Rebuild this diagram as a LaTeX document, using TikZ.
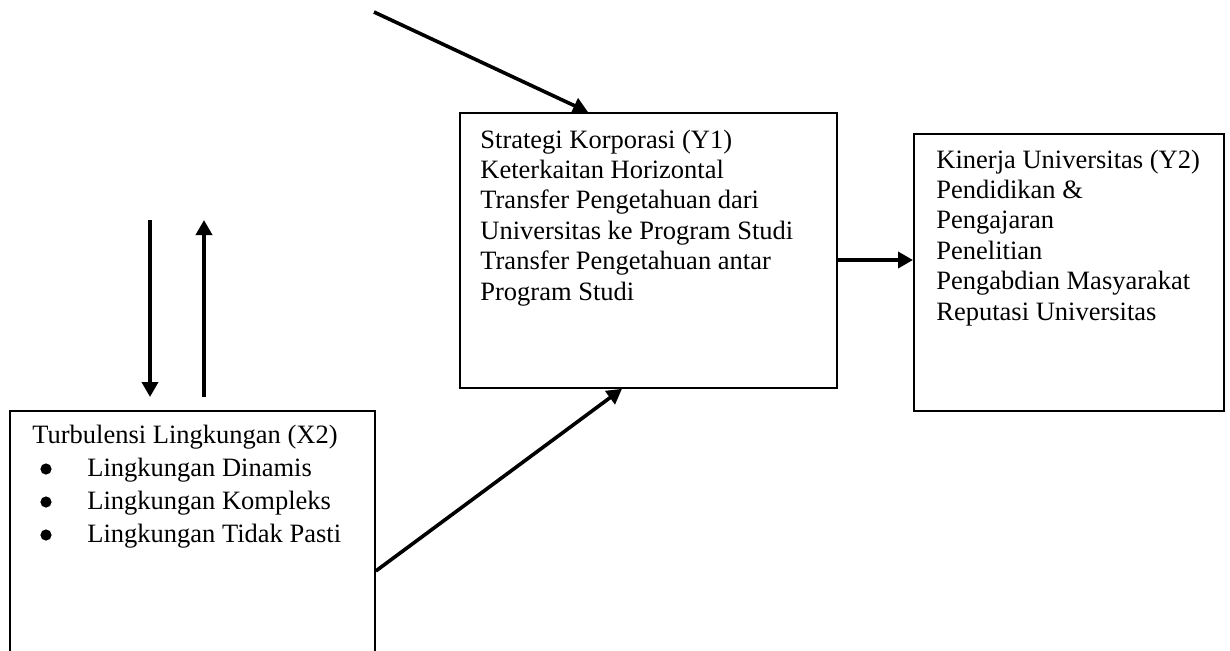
\documentclass[tikz,border=0pt]{standalone}
\usepackage{fontspec}
\setmainfont{Liberation Serif}
\usetikzlibrary{arrows.meta,calc}
\begin{document}
\begin{tikzpicture}[x=0.5pt,y=-0.5pt,
  box/.style={draw, line width=0.9pt, inner sep=0, anchor=north west},
  txt/.style={inner sep=0, anchor=base west, align=left, font=\fontsize{13.25}{15.2}\selectfont},
  arr/.style={line width=1.8pt, -{Triangle[length=7.5pt,width=8pt]}}]
\useasboundingbox (0,0) rectangle (1230,650);
% boxes
\node[box, minimum width=188.5pt, minimum height=137.5pt] (y1) at (459,112) {};
\node[box, minimum width=155pt, minimum height=138.5pt] (y2) at (913,133) {};
\node[box, minimum width=182.5pt, minimum height=135pt] (x2) at (9,410) {};
% texts (anchored at the baseline of their last line)
\node[txt] (y1t) at (480,300) {Strategi Korporasi (Y1)\\Keterkaitan Horizontal\\Transfer Pengetahuan dari\\Universitas ke Program Studi\\Transfer Pengetahuan antar\\Program Studi};
\node[txt] (y2t) at (936,320) {Kinerja Universitas (Y2)\\Pendidikan \&\\Pengajaran\\Penelitian\\Pengabdian Masyarakat\\Reputasi Universitas};
\node[txt, font=\fontsize{13.25}{16.4}\selectfont] (x2t) at (32,542) {Turbulensi Lingkungan (X2)\\
  \hspace*{27.5pt}Lingkungan Dinamis\\
  \hspace*{27.5pt}Lingkungan Kompleks\\
  \hspace*{27.5pt}Lingkungan Tidak Pasti};
% bullets
\fill (46,469) circle[radius=5.6];
\fill (46,502) circle[radius=5.6];
\fill (46,535) circle[radius=5.6];
% free ends
\coordinate (topstart) at (374,12);
\coordinate (d1) at (150,220);
\coordinate (d2) at (150,397);
\coordinate (u1) at (204,397);
\coordinate (u2) at (204,220);
% connectors
\draw[arr] (topstart) -- ($(y1.north west)+(129,0)$);
\draw[arr] (d1) -- (d2);
\draw[arr] (u1) -- (u2);
\draw[arr] ($(x2.north east)+(0,161)$) -- ($(y1.south west)+(163,0)$);
\draw[arr] (y1.east |- 0,260) -- (y2.west |- 0,260);
\end{tikzpicture}
\end{document}
